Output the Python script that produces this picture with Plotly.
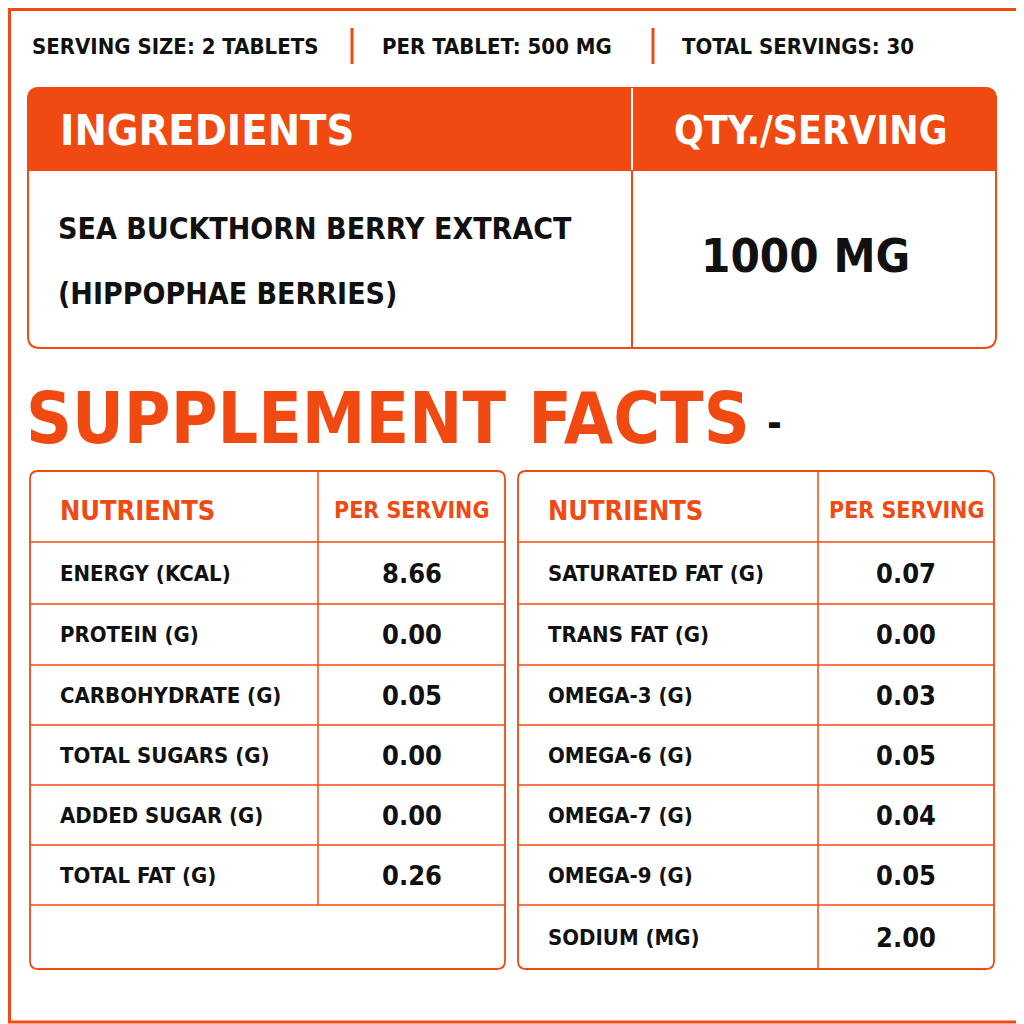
import plotly.graph_objects as go

header_items = ["SERVING SIZE: 2 TABLETS", "PER TABLET: 500 MG", "TOTAL SERVINGS: 30"]
ing_headers = ["INGREDIENTS", "QTY./SERVING"]
ing_lines = ["SEA BUCKTHORN BERRY EXTRACT", "(HIPPOPHAE BERRIES)"]
ing_qty = "1000 MG"
title = "SUPPLEMENT FACTS"
col_headers = ["NUTRIENTS", "PER SERVING"]
left_names = ["ENERGY (KCAL)", "PROTEIN (G)", "CARBOHYDRATE (G)", "TOTAL SUGARS (G)", "ADDED SUGAR (G)", "TOTAL FAT (G)"]
left_vals = ["8.66", "0.00", "0.05", "0.00", "0.00", "0.26"]
right_names = ["SATURATED FAT (G)", "TRANS FAT (G)", "OMEGA-3 (G)", "OMEGA-6 (G)", "OMEGA-7 (G)", "OMEGA-9 (G)", "SODIUM (MG)"]
right_vals = ["0.07", "0.00", "0.03", "0.05", "0.04", "0.05", "2.00"]

OR = "#f04a12"
FONT = "DejaVu Sans Condensed, Roboto, sans-serif"
fig = go.Figure()
shapes, ann = [], []

def rrect(x0, y0, x1, y1, r, fill="rgba(0,0,0,0)", line=OR, w=2, top_only=False):
    if top_only:
        p = f"M{x0},{y1} L{x0},{y0+r} Q{x0},{y0} {x0+r},{y0} L{x1-r},{y0} Q{x1},{y0} {x1},{y0+r} L{x1},{y1} Z"
    else:
        p = (f"M{x0+r},{y0} L{x1-r},{y0} Q{x1},{y0} {x1},{y0+r} L{x1},{y1-r} Q{x1},{y1} {x1-r},{y1} "
             f"L{x0+r},{y1} Q{x0},{y1} {x0},{y1-r} L{x0},{y0+r} Q{x0},{y0} {x0+r},{y0} Z")
    shapes.append(dict(type="path", path=p, fillcolor=fill, line=dict(color=line, width=w), layer="below"))

def line(x0, y0, x1, y1, w=1.5, c=OR):
    shapes.append(dict(type="line", x0=x0, y0=y0, x1=x1, y1=y1, line=dict(color=c, width=w)))

def text(x, y, s, size, color="#111", anchor="left"):
    ann.append(dict(x=x, y=y, text=f"<b>{s}</b>", showarrow=False, xanchor=anchor, yanchor="middle",
                    font=dict(family=FONT, size=size, color=color)))

# outer frame
shapes.append(dict(type="rect", x0=9.5, y0=9.5, x1=1022, y1=1022, line=dict(color=OR, width=3)))

# header line
xs = [30, 380, 680]
for x, s in zip(xs, header_items):
    text(x, 46, s, 22)
for x in [352, 653]:
    line(x, 28, x, 64, w=3)

# ingredients box
rrect(28, 88, 996, 348, 12, fill="white", w=2)
rrect(28, 88, 996, 170, 12, fill=OR, w=2, top_only=True)
line(632, 88, 632, 348, w=2)
line(632, 88, 632, 170, w=2, c="white")
text(58, 130, ing_headers[0], 43, "white")
text(810, 130, ing_headers[1], 39, "white", "center")
text(56, 228, ing_lines[0], 30)
text(56, 293, ing_lines[1], 30)
text(805, 255, ing_qty, 47, "#111", "center")

# title
text(24, 418, title, 71, OR)
text(765, 423, "-", 40, "#111")

def table(x0, x1, xd, names, vals):
    rows = [471, 542, 604, 665, 725, 785, 845, 905, 969]
    rrect(x0, 471, x1, 969, 8, fill="white", w=1.8)
    for y in rows[1:-1]:
        line(x0, y, x1, y)
    ydiv_end = rows[len(names) + 1]
    line(xd, 471, xd, ydiv_end)
    text(x0 + 28, 510, col_headers[0], 27, OR)
    text((xd + x1) / 2, 510, col_headers[1], 23, OR, "center")
    for i, (n, v) in enumerate(zip(names, vals)):
        yc = (rows[i + 1] + rows[i + 2]) / 2
        text(x0 + 28, yc, n, 22)
        text((xd + x1) / 2, yc, v, 27, "#111", "center")

table(30, 505, 318, left_names, left_vals)
table(518, 994, 818, right_names, right_vals)

fig.update_layout(width=1024, height=1024, margin=dict(l=0, r=0, t=0, b=0),
                  paper_bgcolor="white", plot_bgcolor="white", shapes=shapes, annotations=ann,
                  xaxis=dict(range=[8, 1032], visible=False, fixedrange=True),
                  yaxis=dict(range=[1032, 8], visible=False, fixedrange=True), showlegend=False)
fig.write_html("out.html")
